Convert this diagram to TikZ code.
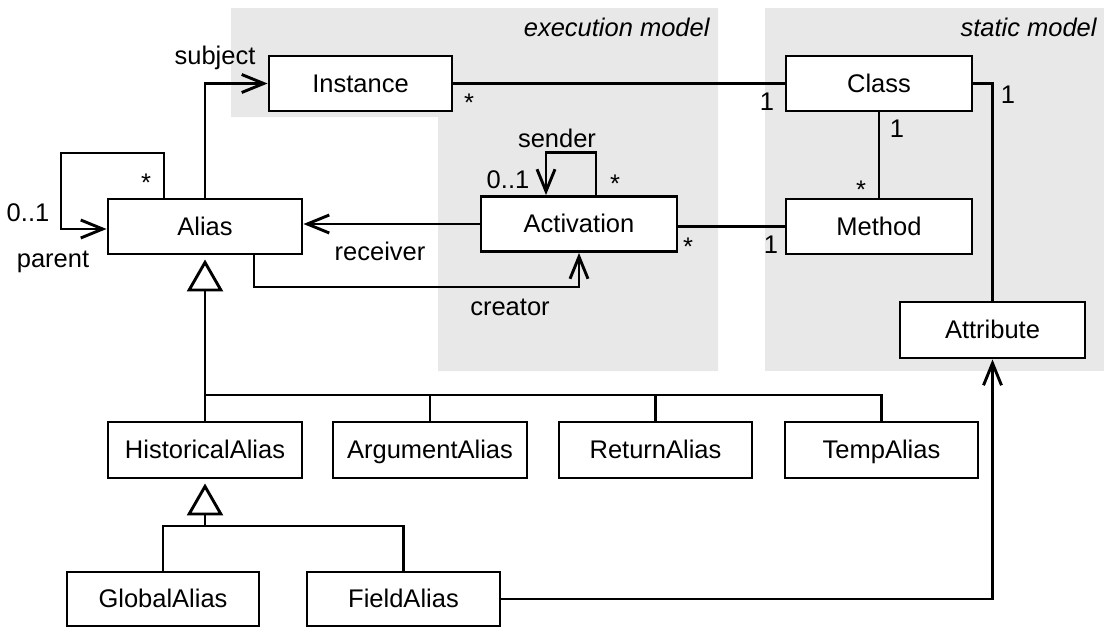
\documentclass[tikz,border=0pt]{standalone}
\usepackage{fontspec}
\setmainfont{Liberation Sans}
\usetikzlibrary{arrows.meta}
\begin{document}
\begin{tikzpicture}[x=1pt, y=-1pt, line width=2.9pt,
  txt/.style={font=\fontsize{25.5}{30}\selectfont},
  box/.style={draw, fill=white, line width=2.9pt, minimum height=55pt, inner sep=0pt,
    text height=18pt, text depth=1pt, txt},
  lbl/.style={anchor=base, inner sep=0pt, txt},
  assoc/.style={-{Straight Barb[length=22pt,width=18pt]}},
  gen/.style={-{Triangle[open,length=32pt,width=36pt]}, shorten >=4pt},
  regionfill/.style={fill=gray!18, draw=none}]
\useasboundingbox (0,0) rectangle (1107,627);

% model regions
\fill[regionfill] (231,8) -- (718,8) -- (718,371) -- (438,371) -- (438,117) -- (231,117) -- cycle;
\fill[regionfill] (765,8) rectangle (1104,371);
\node[lbl, anchor=base east, font=\fontsize{25.5}{30}\selectfont\itshape] (execlbl) at (711,36) {execution model};
\node[lbl, anchor=base east, font=\fontsize{25.5}{30}\selectfont\itshape] (staticlbl) at (1098,36) {static model};

% classes
\node[box, minimum width=183pt] (Instance) at (360.5,83.5) {Instance};
\node[box, minimum width=186pt] (Class) at (879,83.5) {Class};
\node[box, minimum width=194pt] (Alias) at (205,226.5) {Alias};
\node[box, minimum width=196pt] (Activation) at (579,224) {Activation};
\node[box, minimum width=186pt] (Method) at (879,226.5) {Method};
\node[box, minimum width=185pt, minimum height=56pt] (Attribute) at (992.5,330) {Attribute};
\node[box, minimum width=194pt, minimum height=56pt] (HistoricalAlias) at (205,450) {HistoricalAlias};
\node[box, minimum width=194pt, minimum height=56pt] (ArgumentAlias) at (430,450) {ArgumentAlias};
\node[box, minimum width=193pt, minimum height=56pt] (ReturnAlias) at (655.5,450) {ReturnAlias};
\node[box, minimum width=193pt, minimum height=56pt] (TempAlias) at (881.5,450) {TempAlias};
\node[box, minimum width=192pt, minimum height=54pt] (GlobalAlias) at (163,599) {GlobalAlias};
\node[box, minimum width=193pt, minimum height=54pt] (FieldAlias) at (403.5,599) {FieldAlias};

% bend points
\coordinate (parentbend) at (61,153);
\coordinate (creatorbend) at (579,287);
\coordinate (bar1) at (205,395);
\coordinate (bar2) at (205,526);

% associations
\draw (Instance.east) -- (Class.west);
\draw (Class.south) -- (Method.north);
\draw (Activation.east |- Method.west) -- (Method.west);
\draw (Class.east) -| (Attribute.north);
\draw[assoc] (Alias.north) |- (Instance.west);
\draw[assoc] ([xshift=-41pt]Alias.north) |- (parentbend) |- ([yshift=-2.5pt]Alias.west);
\draw[assoc] (Activation.west) -- (Activation.west -| Alias.east);
\draw[assoc] ([xshift=49pt]Alias.south) |- (creatorbend) -- (Activation.south);
\draw[assoc] ([xshift=17pt]Activation.north) -- ++(0,-43) -| ([xshift=-33pt]Activation.north);
\draw[assoc] (FieldAlias.east) -| (Attribute.south);

% generalizations
\draw[gen] (bar1) -- (Alias.south);
\draw (HistoricalAlias.north) -- (bar1) -- (bar1 -| TempAlias.north) -- (TempAlias.north);
\draw (ArgumentAlias.north) -- (ArgumentAlias.north |- bar1);
\draw (ReturnAlias.north) -- (ReturnAlias.north |- bar1);
\draw[gen] (bar2) -- (HistoricalAlias.south);
\draw (GlobalAlias.north) |- (bar2 -| FieldAlias.north) -- (FieldAlias.north);

% role names and multiplicities
\node[lbl] (lsubject) at (215,64) {subject};
\node[lbl] (lparentmany) at (146,191) {*};
\node[lbl] (lparentone) at (28,221) {0..1};
\node[lbl] (lparent) at (53,267) {parent};
\node[lbl] (lreceiver) at (380,260) {receiver};
\node[lbl] (lcreator) at (510,315) {creator};
\node[lbl] (lsender) at (557,147) {sender};
\node[lbl] (lsenderone) at (508,188) {0..1};
\node[lbl] (lsendermany) at (615,192) {*};
\node[lbl] (linstmany) at (469,111) {*};
\node[lbl] (linstone) at (767,110) {1};
\node[lbl] (lattrone) at (1008,103) {1};
\node[lbl] (lmethone) at (897,137) {1};
\node[lbl] (lmethmany) at (861,198) {*};
\node[lbl] (lactmany) at (688,255) {*};
\node[lbl] (lactone) at (771,253) {1};
\end{tikzpicture}
\end{document}
